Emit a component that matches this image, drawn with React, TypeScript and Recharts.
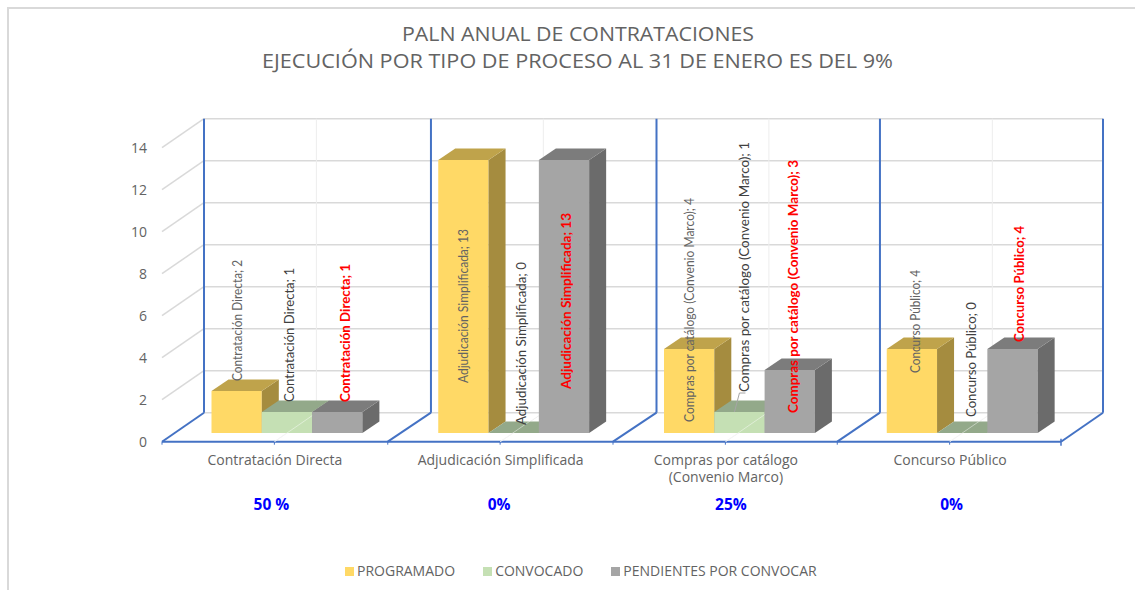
import React from 'react';
import { BarChart, Bar, XAxis, YAxis, Legend, LabelList } from 'recharts';

const categories = ['Contratación Directa', 'Adjudicación Simplificada', 'Compras por catálogo (Convenio Marco)', 'Concurso Público'];
const programado = [2, 13, 4, 4];
const convocado = [1, 0, 1, 0];
const pendientes = [1, 13, 3, 4];
const percentLabels = ['50 %', '0%', '25%', '0%'];
const yTicks = [0, 2, 4, 6, 8, 10, 12, 14];
const titleLines = ['PALN ANUAL DE CONTRATACIONES', 'EJECUCIÓN POR TIPO DE PROCESO AL 31 DE ENERO ES DEL 9%'];

const data = categories.map((name, i) => ({
  name,
  programado: programado[i],
  convocado: convocado[i],
  pendientes: pendientes[i],
}));

// fake 3d: floor depth, and how far the bars sit inside it
const PLOT_W = 899;
const PLOT_H = 294;
const CAT_W = PLOT_W / 4;
const WALL_DX = 42;
const WALL_DY = -29;
const BAR_DX = 12.5;
const BAR_DY = -8.7;
const SIDE_DX = 17;
const SIDE_DY = -11.5;

const BLUE = '#4472C4';
const WALL_W = 2;
const GRID = '#D9D9D9';
const TEXT = '#636363';
const SANS = '"Open Sans", sans-serif';
const NARROW = 'Lato, sans-serif';

// the source columns are not quite evenly spaced
const floorNudge = [0, 1, 1.5, 1];
const wallNudge = [0, 2.2, 3, 1.7];
const barNudge = [0, 2, 3, 1];

// tweak per label: [dx from bar centre, gap between bar top and label start, text length]
const labelTweaks = [
  [[1, 10, 121], [2, 10, 134], [7, 10, 138]],
  [[0, -223, 154], [7, 8, 163], [1, -229, 176]],
  [[0, -73, 224], [4, 20, 250], [3, -43, 253]],
  [[4, -24, 103], [8, 16, 115], [6, 7, 116]],
];
const percentNudge = [-3, 0, 7, 3];

const Bar3D = ({ x, y, width, height, index, front, side, top, floorLine }: any) => {
  const l = x + BAR_DX + barNudge[index];
  const r = l + width;
  const t = y + BAR_DY;
  const b = t + height;
  const mid = x + width / 2 + floorNudge[index];
  const floorY = y + height;
  return (
    <g>
      {height > 0 && <rect x={l} y={t} width={width} height={height} fill={front} />}
      <polygon points={`${r},${t} ${r + SIDE_DX},${t + SIDE_DY} ${r + SIDE_DX},${b + SIDE_DY} ${r},${b}`} fill={side} />
      <polygon points={`${l},${t} ${l + SIDE_DX},${t + SIDE_DY} ${r + SIDE_DX},${t + SIDE_DY} ${r},${t}`} fill={top} />
      {floorLine && <line x1={mid} y1={floorY} x2={mid + WALL_DX} y2={floorY + WALL_DY} stroke="#FFFFFF" strokeOpacity={0.45} strokeWidth={1} />}
    </g>
  );
};

const BarLabel = ({ x, y, width, value, index, series, fontSize, fill, bold }: any) => {
  const [dx, gap, len] = labelTweaks[index][series];
  const cx = x + BAR_DX + barNudge[index] + width / 2 + dx;
  const cy = y + BAR_DY - gap;
  return (
    <g>
      {/* leader line on the one label Excel moved away from its bar */}
      {index === 2 && series === 1 && (
        <polyline points={`${cx + 2},${cy + 1} ${cx - 4},${cy + 1} ${cx - 9},${cy + 20}`} fill="none" stroke="#A6A6A6" strokeWidth={1} />
      )}
      <text
        x={cx}
        y={cy}
        transform={`rotate(-90 ${cx} ${cy})`}
        dominantBaseline="central"
        fontFamily={NARROW}
        fontSize={fontSize}
        fontWeight={bold ? 700 : 400}
        fill={fill}
        textLength={len}
        lengthAdjust="spacingAndGlyphs"
      >
        {`${categories[index]}; ${value}`}
      </text>
    </g>
  );
};

const YTick = ({ x, y, payload }: any) => (
  <g>
    {payload.value > 0 && <line x1={x} y1={y} x2={x + WALL_DX} y2={y + WALL_DY} stroke={GRID} strokeWidth={1.5} />}
    <line x1={x + WALL_DX} y1={y + WALL_DY} x2={x + WALL_DX + PLOT_W} y2={y + WALL_DY} stroke={GRID} strokeWidth={1.5} />
    <text x={x - 15} y={y} textAnchor="end" dominantBaseline="central" fontFamily={SANS} fontSize={14} fill={TEXT}>
      {payload.value}
    </text>
  </g>
);

const XTick = ({ x, y, index }: any) => {
  const left = x - CAT_W / 2;
  const right = x + CAT_W / 2;
  const backY = y + WALL_DY;
  const front = left + floorNudge[index];
  const back = left + WALL_DX + wallNudge[index];
  const midFront = x + floorNudge[index];
  const midBack = x + WALL_DX + wallNudge[index];
  const name = categories[index];
  const split = name.indexOf(' (');
  const lines = split > 0 ? [name.slice(0, split), name.slice(split + 1)] : [name];
  return (
    <g>
      <line x1={midFront} y1={y} x2={midBack} y2={backY} stroke="#EDEDED" strokeWidth={1} />
      <line x1={midBack} y1={backY} x2={midBack} y2={backY - PLOT_H} stroke="#EDEDED" strokeWidth={1} />
      <line x1={front} y1={y} x2={back} y2={backY} stroke={BLUE} strokeWidth={WALL_W} />
      <line x1={back} y1={backY} x2={back} y2={backY - PLOT_H} stroke={BLUE} strokeWidth={WALL_W} />
      {index === categories.length - 1 && (
        <g>
          <line x1={right} y1={y} x2={right + WALL_DX} y2={backY} stroke={BLUE} strokeWidth={WALL_W} />
          <line x1={right + WALL_DX} y1={backY} x2={right + WALL_DX} y2={backY - PLOT_H} stroke={BLUE} strokeWidth={WALL_W} />
          <line x1={right} y1={y - 3} x2={right} y2={y + 4} stroke={BLUE} strokeWidth={1.5} />
        </g>
      )}
      <line x1={midFront} y1={y} x2={midFront} y2={y + 3} stroke={BLUE} strokeWidth={1} />
      <line x1={front} y1={y} x2={front} y2={y + 3} stroke={BLUE} strokeWidth={1} />
      {lines.map((line, i) => (
        <text key={line} x={midFront + 0.5} y={y + 18 + i * 17} textAnchor="middle" dominantBaseline="central" fontFamily={SANS} fontSize={14} fill={TEXT}>
          {line}
        </text>
      ))}
      <text x={x + percentNudge[index]} y={y + 62} textAnchor="middle" dominantBaseline="central" fontFamily={SANS} fontSize={15.5} fontWeight={700} fill="#0000FF">
        {percentLabels[index]}
      </text>
    </g>
  );
};

const LegendRow = ({ payload }: any) => (
  <div style={{ display: 'flex', gap: 28, marginLeft: 345, fontFamily: SANS, fontSize: 14, color: TEXT, lineHeight: '18px' }}>
    {(payload || []).map((item: any) => (
      <div key={item.value} style={{ display: 'flex', alignItems: 'center', gap: 3 }}>
        <span style={{ width: 9, height: 9, background: item.color, display: 'inline-block' }} />
        <span>{item.value}</span>
      </div>
    ))}
  </div>
);

const layer = { position: 'absolute', left: 0, top: 0 } as const;

export default function App() {
  return (
    <div style={{ position: 'absolute', left: 0, top: 0, width: 1135, height: 590, background: '#fff', overflow: 'hidden' }}>
      <div style={{ position: 'absolute', left: 7, top: 7, right: -4, bottom: -4, borderLeft: `2px solid ${GRID}`, borderTop: `2px solid ${GRID}` }} />
      {/* axes and walls live in their own chart underneath, they have to stay behind the columns */}
      <div style={layer}>
        <BarChart width={1135} height={590} data={data} margin={{ top: 147.7, right: 74, bottom: 48.3, left: 102 }}>
          <text x={578} y={33} textAnchor="middle" dominantBaseline="central" fontFamily={SANS} fontSize={20} fill={TEXT} textLength={352} lengthAdjust="spacingAndGlyphs">
            {titleLines[0]}
          </text>
          <text x={577.5} y={60} textAnchor="middle" dominantBaseline="central" fontFamily={SANS} fontSize={20} fill={TEXT} textLength={631} lengthAdjust="spacingAndGlyphs">
            {titleLines[1]}
          </text>
          <YAxis width={60} domain={[0, 14]} ticks={yTicks} axisLine={false} tickLine={false} tickSize={0} tickMargin={0} tick={<YTick />} />
          <XAxis dataKey="name" height={100} interval={0} axisLine={{ stroke: BLUE, strokeWidth: WALL_W }} tickLine={false} tickSize={0} tickMargin={0} tick={<XTick />} />
          {/* empty series, the y axis draws no ticks without one */}
          <Bar dataKey="programado" fill="none" isAnimationActive={false} />
        </BarChart>
      </div>
      <div style={layer}>
        <BarChart width={1135} height={590} data={data} barSize={50.3} barGap={0} margin={{ top: 147.7, right: 74, bottom: 148.3, left: 162 }}>
          <YAxis hide domain={[0, 14]} ticks={yTicks} />
          <XAxis hide dataKey="name" />
          <Legend
            verticalAlign="middle"
            align="center"
            itemSorter={null}
            content={<LegendRow />}
            wrapperStyle={{ position: 'absolute', left: 0, top: 562, width: 1135, height: 18 }}
          />
          <Bar
            dataKey="programado"
            name="PROGRAMADO"
            fill="#FFD966"
            isAnimationActive={false}
            shape={(p: any) => <Bar3D {...p} front="#FFD966" side="#A58C3F" top="#BFA34B" />}
          >
            <LabelList dataKey="programado" content={(p: any) => <BarLabel {...p} series={0} fontSize={12.5} fill={TEXT} />} />
          </Bar>
          <Bar
            dataKey="convocado"
            name="CONVOCADO"
            fill="#C5E0B4"
            isAnimationActive={false}
            shape={(p: any) => <Bar3D {...p} front="#C5E0B4" side="#8FA785" top="#93A98A" floorLine />}
          >
            <LabelList dataKey="convocado" content={(p: any) => <BarLabel {...p} series={1} fontSize={14} fill="#404040" />} />
          </Bar>
          <Bar
            dataKey="pendientes"
            name="PENDIENTES POR CONVOCAR"
            fill="#A5A5A5"
            isAnimationActive={false}
            shape={(p: any) => <Bar3D {...p} front="#A5A5A5" side="#6B6B6B" top="#7C7C7C" />}
          >
            <LabelList dataKey="pendientes" content={(p: any) => <BarLabel {...p} series={2} fontSize={14} fill="#FF0000" bold />} />
          </Bar>
        </BarChart>
      </div>
    </div>
  );
}
